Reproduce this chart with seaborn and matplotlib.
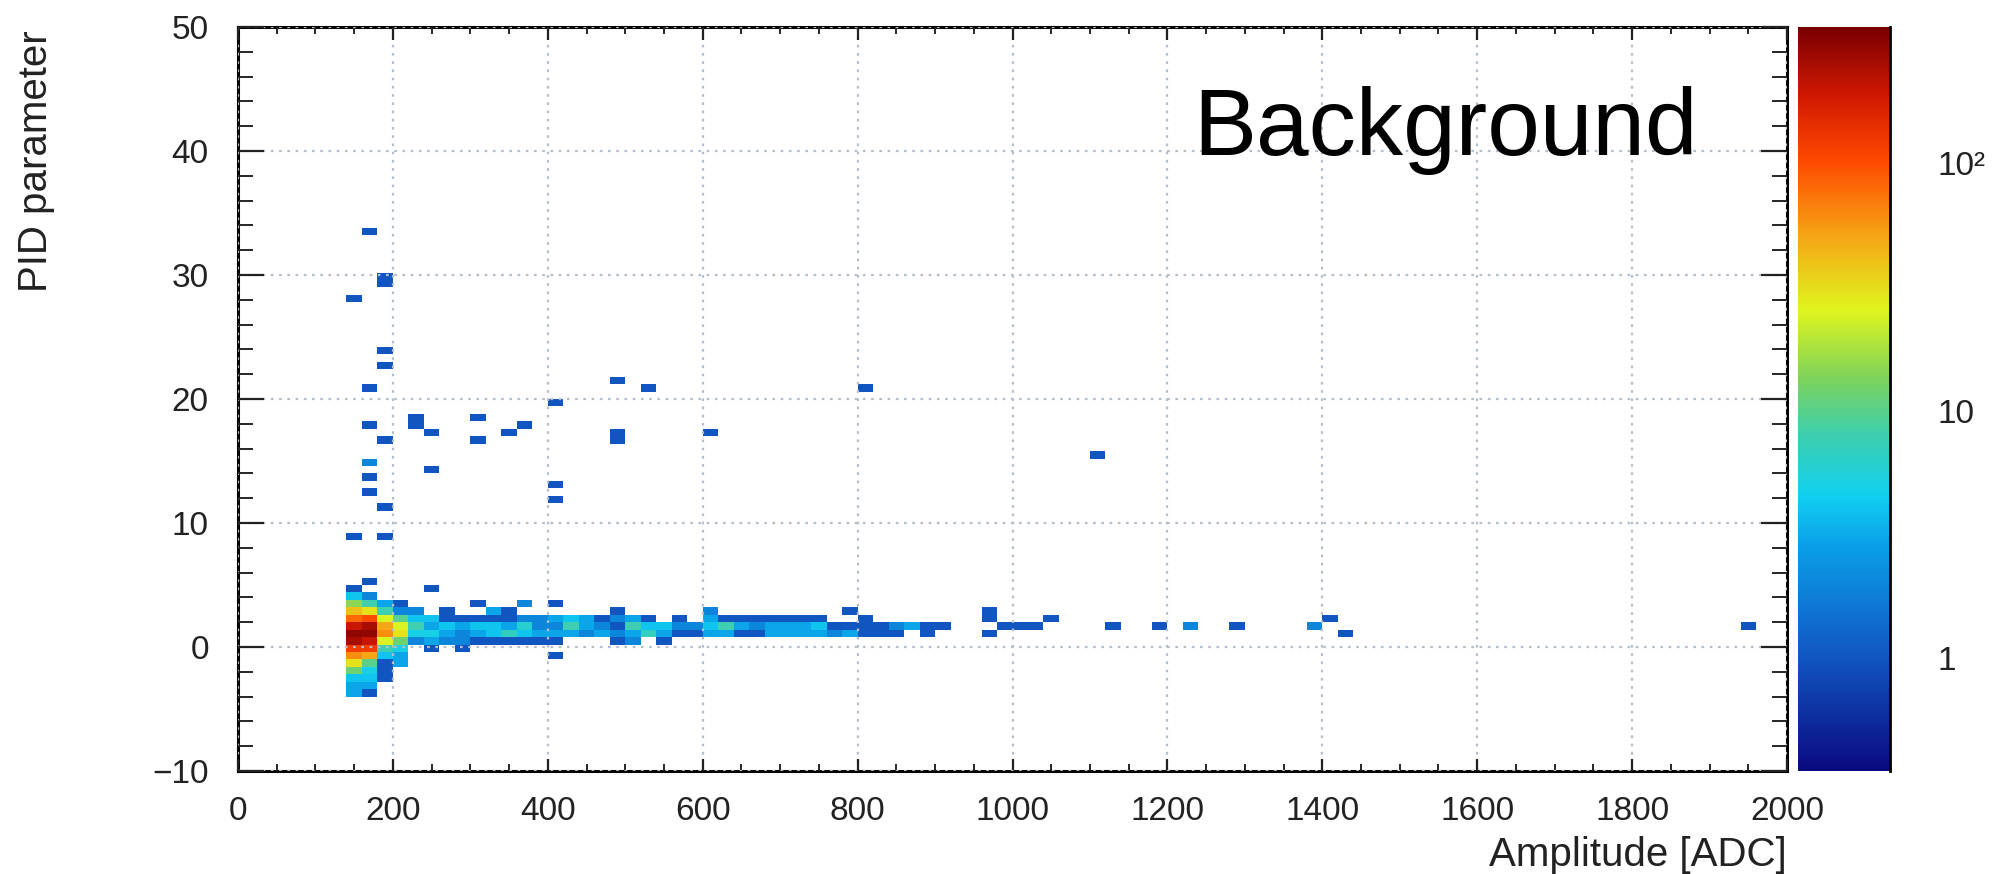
import numpy as np
import pandas as pd
import matplotlib
matplotlib.use("Agg")
import matplotlib.pyplot as plt
import seaborn as sns
from matplotlib.colors import LinearSegmentedColormap, LogNorm
from matplotlib.ticker import MultipleLocator

# --- 2D histogram contents: bin centres (20 ADC x 0.6 PID) and counts ---
# peak region, 140-220 ADC
peak_amp = [150] * 15 + [170] * 15 + [190] * 11 + [210] * 9
peak_pid = [4.7, 4.1, 3.5, 2.9, 2.3, 1.7, 1.1, 0.5, -0.1, -0.7, -1.3, -1.9, -2.5, -3.1, -3.7,
            5.3, 4.1, 3.5, 2.9, 2.3, 1.7, 1.1, 0.5, -0.1, -0.7, -1.3, -1.9, -2.5, -3.1, -3.7,
            3.5, 2.9, 2.3, 1.7, 1.1, 0.5, -0.1, -0.7, -1.3, -1.9, -2.5,
            3.5, 2.9, 2.3, 1.7, 1.1, 0.5, -0.1, -0.7, -1.3]
peak_cnt = [1, 4, 15, 40, 80, 200, 300, 250, 120, 60, 30, 12, 4, 3, 3,
            1, 2, 8, 30, 100, 250, 300, 200, 120, 50, 10, 5, 4, 3, 1,
            3, 8, 25, 50, 60, 25, 8, 4, 1, 1, 1,
            1, 2, 10, 25, 30, 12, 5, 3, 3]

# horizontal band, 220-920 ADC
band_amp = [230] * 5 + [250] * 6 + [270] * 5 + [290] * 5 + [310] * 5 + [330] * 5 + \
           [350] * 5 + [370] * 5 + [390] * 4 + [410] * 6 + [430] * 3 + [450] * 3 + \
           [470] * 3 + [490] * 5 + [510] * 4 + [530] * 3 + [550] * 3 + [570] * 3 + \
           [590] * 2 + [610] * 4 + [630] * 3 + [650] * 3 + [670] * 3 + [690] * 3 + \
           [710] * 3 + [730] * 3 + [750] * 3 + [770] * 2 + [790] * 3 + [810] * 3 + \
           [830] * 2 + [850] * 2 + [870] * 1 + [890] * 2 + [910] * 1
band_pid = [2.9, 2.3, 1.7, 1.1, 0.5,
            4.7, 2.3, 1.7, 1.1, 0.5, -0.1,
            2.9, 2.3, 1.7, 1.1, 0.5,
            2.3, 1.7, 1.1, 0.5, -0.1,
            3.5, 2.3, 1.7, 1.1, 0.5,
            2.9, 2.3, 1.7, 1.1, 0.5,
            2.9, 2.3, 1.7, 1.1, 0.5,
            3.5, 2.3, 1.7, 1.1, 0.5,
            2.3, 1.7, 1.1, 0.5,
            3.5, 2.3, 1.7, 1.1, 0.5, -0.7,
            2.3, 1.7, 1.1,
            2.3, 1.7, 1.1,
            2.3, 1.7, 1.1,
            2.9, 2.3, 1.7, 1.1, 0.5,
            2.3, 1.7, 1.1, 0.5,
            2.3, 1.7, 1.1,
            1.7, 1.1, 0.5,
            2.3, 1.7, 1.1,
            1.7, 1.1,
            2.9, 2.3, 1.7, 1.1,
            2.3, 1.7, 1.1,
            2.3, 1.7, 1.1,
            2.3, 1.7, 1.1,
            2.3, 1.7, 1.1,
            2.3, 1.7, 1.1,
            2.3, 1.7, 1.1,
            2.3, 1.7, 1.1,
            1.7, 1.1,
            2.9, 1.7, 1.1,
            2.3, 1.7, 1.1,
            1.7, 1.1,
            1.7, 1.1,
            1.7,
            1.7, 1.1,
            1.7]
band_cnt = [2, 4, 8, 5, 2,
            1, 4, 3, 5, 3, 1,
            1, 1, 4, 3, 2,
            1, 3, 2, 2, 1,
            1, 1, 4, 3, 1,
            3, 1, 4, 4, 1,
            1, 1, 3, 7, 1,
            2, 2, 6, 4, 1,
            2, 2, 3, 1,
            1, 3, 2, 3, 1, 1,
            4, 8, 3,
            3, 3, 2,
            1, 2, 3,
            1, 2, 1, 2, 1,
            3, 8, 3, 2,
            1, 4, 7,
            4, 3, 1,
            1, 2, 1,
            2, 1,
            2, 3, 4, 3,
            1, 8, 3,
            1, 3, 1,
            1, 2, 1,
            1, 3, 3,
            1, 3, 3,
            1, 3, 3,
            1, 4, 3,
            1, 2,
            1, 1, 3,
            1, 1, 1,
            1, 1,
            2, 1,
            3,
            1, 1,
            1]

# sparse tail at high amplitude
tail_amp = [970, 970, 970, 990, 1010, 1030, 1050, 1130, 1190, 1230, 1290, 1390, 1410, 1430, 1950]
tail_pid = [2.9, 2.3, 1.1, 1.7, 1.7, 1.7, 2.3, 1.7, 1.7, 1.7, 1.7, 1.7, 2.3, 1.1, 1.7]
tail_cnt = [1, 1, 1, 1, 1, 1, 1, 1, 1, 2, 1, 2, 1, 1, 1]

# isolated entries at large PID parameter
high_amp = [150, 150, 170, 170, 170, 170, 170, 170, 190, 190, 190, 190, 190, 190, 190,
            230, 230, 250, 250, 310, 310, 350, 370, 410, 410, 410, 490, 490, 490, 530,
            610, 810, 1110]
high_pid = [28.1, 8.9, 33.5, 20.9, 17.9, 15.1, 13.7, 12.5, 29.3, 29.9, 23.9, 22.7, 16.7, 11.3, 8.9,
            18.5, 17.9, 17.3, 14.3, 18.5, 16.7, 17.3, 17.9, 19.7, 13.1, 11.9, 21.5, 17.3, 16.7, 20.9,
            17.3, 20.9, 15.5]
high_cnt = [1, 1, 1, 1, 1, 2, 1, 1, 1, 1, 1, 1, 1, 1, 1,
            1, 1, 1, 1, 1, 1, 1, 1, 1, 1, 1, 1, 1, 1, 1,
            1, 1, 1]

hist = pd.DataFrame({
    "amp": peak_amp + band_amp + tail_amp + high_amp,
    "pid": peak_pid + band_pid + tail_pid + high_pid,
    "n": peak_cnt + band_cnt + tail_cnt + high_cnt,
})

# ROOT-like rainbow palette
rainbow = LinearSegmentedColormap.from_list("root_rainbow", [
    (0.00, "#0a0a80"), (0.15, "#1155c0"), (0.30, "#0a9ee8"), (0.37, "#10d0f0"),
    (0.45, "#3ccfb0"), (0.53, "#7fd35a"), (0.62, "#e0f51e"), (0.72, "#f5a515"),
    (0.82, "#ff4a00"), (0.91, "#d01800"), (1.00, "#7a0000"),
])

sns.set_theme(style="white")
plt.rcParams["font.family"] = ["Liberation Sans", "DejaVu Sans"]

W, H = 2001, 874
fig = plt.figure(figsize=(W / 100, H / 100), dpi=100)
ax = fig.add_axes([238 / W, 103 / H, 1549 / W, 744 / H])
cax = fig.add_axes([1798 / W, 103 / H, 92 / W, 744 / H])

sns.histplot(data=hist, x="amp", y="pid", weights="n",
             binwidth=(20, 0.6), binrange=((0, 2000), (-10, 50)),
             cmap=rainbow, ax=ax)
mesh = ax.collections[0]
mesh.set_norm(LogNorm(vmin=0.35, vmax=355))

ax.set_xlim(0, 2000)
ax.set_ylim(-10, 50)
ax.xaxis.set_major_locator(MultipleLocator(200))
ax.xaxis.set_minor_locator(MultipleLocator(50))
ax.yaxis.set_major_locator(MultipleLocator(10))
ax.yaxis.set_minor_locator(MultipleLocator(2))

ax.set_axisbelow(False)
ax.grid(True, which="major", color="#b4bfcc", linestyle=(0, (1.2, 2.5)), linewidth=1.6)

for s in ax.spines.values():
    s.set_visible(True)
    s.set_color("black")
    s.set_linewidth(2.2)

ax.tick_params(axis="x", which="major", direction="in", top=True, bottom=True,
               length=9, width=1.6, labelsize=24, pad=18, colors="#222222")
ax.tick_params(axis="x", which="minor", direction="in", top=True, bottom=True,
               length=5, width=1.4)
ax.tick_params(axis="y", which="major", direction="in", left=True, right=True,
               length=19, width=1.6, labelsize=24, pad=21, colors="#222222")
ax.tick_params(axis="y", which="minor", direction="in", left=True, right=True,
               length=11, width=1.4)

ax.set_xlabel("Amplitude [ADC]", loc="right", fontsize=29, color="#222222")
ax.xaxis.set_label_coords(1.0, -0.087)
ax.set_ylabel("PID parameter", loc="top", fontsize=29, color="#222222")
ax.yaxis.set_label_coords(-0.118, 0.995)

ax.text(0.6166, 0.828, "Background", transform=ax.transAxes,
        fontsize=68, ha="left", va="baseline", color="black")

# palette axis
cb = fig.colorbar(mesh, cax=cax)
cb.outline.set_visible(False)
cax.spines["right"].set_visible(True)
cax.spines["right"].set_color("black")
cax.spines["right"].set_linewidth(2)
cb.set_ticks([1, 10, 100], labels=["1", "10", "10²"])
cax.tick_params(which="major", direction="in", right=True, left=False,
                length=24, width=1.6, labelsize=24, pad=34, colors="#222222")
cax.tick_params(which="minor", direction="in", right=True, left=False,
                length=11, width=1.4)

fig.savefig("out.png", dpi=100)
